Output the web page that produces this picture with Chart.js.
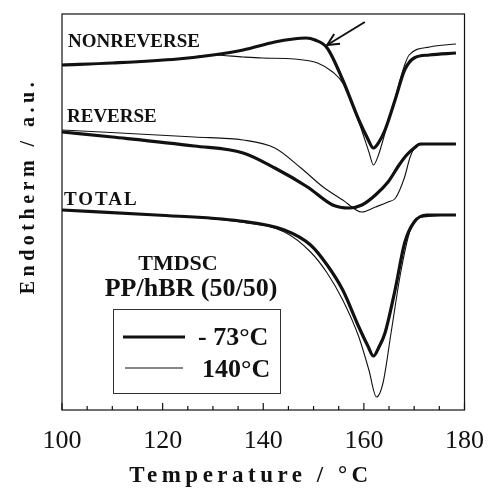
<!DOCTYPE html>
<html>
<head>
<meta charset="utf-8">
<script src="https://cdn.jsdelivr.net/npm/chart.js@4.4.0/dist/chart.umd.min.js"></script>
<style>
  html, body { margin: 0; padding: 0; background: #fff; }
  #wrap { width: 500px; height: 495px; }
</style>
</head>
<body>
<div id="wrap"><canvas id="dsc"></canvas></div>
<script>
// temperature axis
const xTicks = [100, 120, 140, 160, 180];
const xMinor = [105, 110, 115, 125, 130, 135, 145, 150, 155, 165, 170, 175];

// NONREVERSE heat flow (curves are stacked, arbitrary units)
const nrTemp73 = [100, 110, 123, 130, 136, 142.3, 146, 148.5, 150.3, 152.7, 155.8, 159, 160.7, 161.9, 163, 164.2, 166.2, 168.1, 170, 173, 178.3];
const nrVal73  = [345, 347, 351, 355, 360, 368, 371, 372, 370, 362, 330, 290, 272, 262, 268, 280, 310, 340, 352, 355, 357];
const nrTemp140 = [100, 110, 123, 130, 136, 139.8, 146.2, 150.8, 153.8, 155.8, 159, 161, 161.9, 162.9, 164.2, 166.2, 168.1, 169, 173.1, 178.3];
const nrVal140  = [345, 347, 351, 355, 353, 352, 351, 347, 338, 327, 288, 258, 245, 255, 277, 312, 345, 355, 363, 366];

// REVERSE
const rvTemp73 = [100, 110, 126.3, 136, 142.3, 148.8, 153.8, 157.1, 159.6, 162.3, 164.8, 167, 168.5, 170, 171.2, 178.3];
const rvVal73  = [278, 273, 264, 257, 242, 223, 205, 202, 205, 215, 228, 245, 255, 262, 266, 266];
const rvTemp140 = [100, 126.3, 136, 142.3, 147.5, 151.9, 155.8, 159.6, 162.3, 164.8, 166.3, 168.1, 169.2, 170.6, 178.3];
const rvVal140  = [280, 273, 270, 262, 242, 223, 210, 198, 203, 208, 212, 233, 253, 265, 266];

// TOTAL
const ttTemp73 = [100, 118.7, 135.4, 144.2, 149.4, 152.7, 155.8, 159, 160.8, 161.9, 163, 164.2, 166.2, 168.1, 170, 172.5, 178.3];
const ttVal73  = [200, 195, 189, 180, 165, 145, 120, 83, 64, 54, 63, 77, 120, 167, 188, 195, 195];
const ttTemp140 = [100, 118.7, 135.4, 144.2, 149.4, 152.7, 155.8, 159, 161, 162.5, 163.8, 165.4, 167.3, 169.2, 170.6, 178.3];
const ttVal140  = [200, 195, 188, 178, 158, 137, 110, 73, 40, 13, 27, 77, 137, 180, 192, 195];

// arrow pointing at the nonreverse shoulder: [tail, head] as (temp, value)
const arrowTemp = [160.2, 152.7];
const arrowVal = [388, 365];

const legendLabels = ["- 73°C", "140°C"];

const SERIF = '"Liberation Serif", "Times New Roman", serif';
const INK = "#111";

function pts(xs, ys) {
  return xs.map((x, i) => ({ x: x, y: ys[i] }));
}

function curve(xs, ys, thick) {
  return {
    data: pts(xs, ys),
    borderColor: INK,
    borderWidth: thick ? 3.2 : 1.1,
    pointRadius: 0,
    fill: false,
    cubicInterpolationMode: "monotone"
  };
}

const decor = {
  id: "decor",
  afterDraw(chart) {
    const ctx = chart.ctx;
    const a = chart.chartArea;
    const xs = chart.scales.x;
    const ys = chart.scales.y;
    ctx.save();

    // frame
    ctx.strokeStyle = INK;
    ctx.lineWidth = 1.2;
    ctx.strokeRect(a.left, a.top, a.right - a.left, a.bottom - a.top);

    // inward ticks on the temperature axis
    xTicks.forEach(t => {
      const px = xs.getPixelForValue(t);
      ctx.beginPath(); ctx.moveTo(px, a.bottom); ctx.lineTo(px, a.bottom - 7); ctx.stroke();
    });
    xMinor.forEach(t => {
      const px = xs.getPixelForValue(t);
      ctx.beginPath(); ctx.moveTo(px, a.bottom); ctx.lineTo(px, a.bottom - 4); ctx.stroke();
    });

    // arrow
    const x0 = xs.getPixelForValue(arrowTemp[0]), y0 = ys.getPixelForValue(arrowVal[0]);
    const x1 = xs.getPixelForValue(arrowTemp[1]), y1 = ys.getPixelForValue(arrowVal[1]);
    const ang = Math.atan2(y1 - y0, x1 - x0);
    ctx.lineWidth = 2;
    ctx.beginPath(); ctx.moveTo(x0, y0); ctx.lineTo(x1, y1); ctx.stroke();
    ctx.beginPath();
    ctx.moveTo(x1 + 13 * Math.cos(ang + Math.PI - 0.45), y1 + 13 * Math.sin(ang + Math.PI - 0.45));
    ctx.lineTo(x1, y1);
    ctx.lineTo(x1 + 13 * Math.cos(ang + Math.PI + 0.45), y1 + 13 * Math.sin(ang + Math.PI + 0.45));
    ctx.stroke();

    // curve labels
    ctx.fillStyle = INK;
    ctx.textBaseline = "alphabetic";
    ctx.textAlign = "left";
    ctx.font = "bold 19px " + SERIF;
    ctx.fillText("NONREVERSE", 68, 47);
    ctx.fillText("REVERSE", 67, 122);
    ctx.letterSpacing = "2px";
    ctx.fillText("TOTAL", 64, 205);
    ctx.letterSpacing = "0px";

    ctx.textAlign = "center";
    ctx.font = "bold 22px " + SERIF;
    ctx.fillText("TMDSC", 178, 270);
    ctx.font = "bold 26px " + SERIF;
    ctx.fillText("PP/hBR (50/50)", 191, 296);

    // legend box
    ctx.lineWidth = 1;
    ctx.strokeStyle = "#333";
    ctx.strokeRect(113.5, 309.5, 167, 84);
    ctx.strokeStyle = INK;
    ctx.lineWidth = 3.2;
    ctx.beginPath(); ctx.moveTo(123, 337); ctx.lineTo(185, 337); ctx.stroke();
    ctx.lineWidth = 1.1;
    ctx.beginPath(); ctx.moveTo(125, 368); ctx.lineTo(183, 368); ctx.stroke();
    ctx.textAlign = "left";
    ctx.font = "bold 26px " + SERIF;
    ctx.fillText(legendLabels[0], 198, 345);
    ctx.fillText(legendLabels[1], 202, 377);

    // axis titles
    ctx.font = "bold 23px " + SERIF;
    ctx.letterSpacing = "4.5px";
    ctx.textAlign = "center";
    ctx.fillText("Temperature / °C", 251, 482);
    ctx.translate(34, 186);
    ctx.rotate(-Math.PI / 2);
    ctx.font = "bold 20px " + SERIF;
    ctx.letterSpacing = "4.5px";
    ctx.fillText("Endotherm / a.u.", 0, 0);
    ctx.restore();
  }
};

new Chart(document.getElementById("dsc"), {
  type: "line",
  data: {
    datasets: [
      curve(nrTemp73, nrVal73, true),
      curve(nrTemp140, nrVal140, false),
      curve(rvTemp73, rvVal73, true),
      curve(rvTemp140, rvVal140, false),
      curve(ttTemp73, ttVal73, true),
      curve(ttTemp140, ttVal140, false)
    ]
  },
  options: {
    responsive: true,
    maintainAspectRatio: false,
    animation: false,
    layout: { padding: { left: 0, top: 14, right: 22, bottom: 0 } },
    plugins: { legend: { display: false }, tooltip: { enabled: false } },
    scales: {
      x: {
        type: "linear",
        min: 100,
        max: 180,
        afterBuildTicks: s => { s.ticks = xTicks.map(v => ({ value: v })); },
        afterFit: s => { s.height = 85; },
        grid: { display: false, drawTicks: false },
        border: { display: false },
        ticks: { color: INK, padding: 16, maxRotation: 0, font: { family: SERIF, size: 26 } }
      },
      y: {
        min: 0,
        max: 396,
        afterFit: s => { s.width = 62; },
        grid: { display: false, drawTicks: false },
        border: { display: false },
        ticks: { display: false }
      }
    }
  },
  plugins: [decor]
});
</script>
</body>
</html>
